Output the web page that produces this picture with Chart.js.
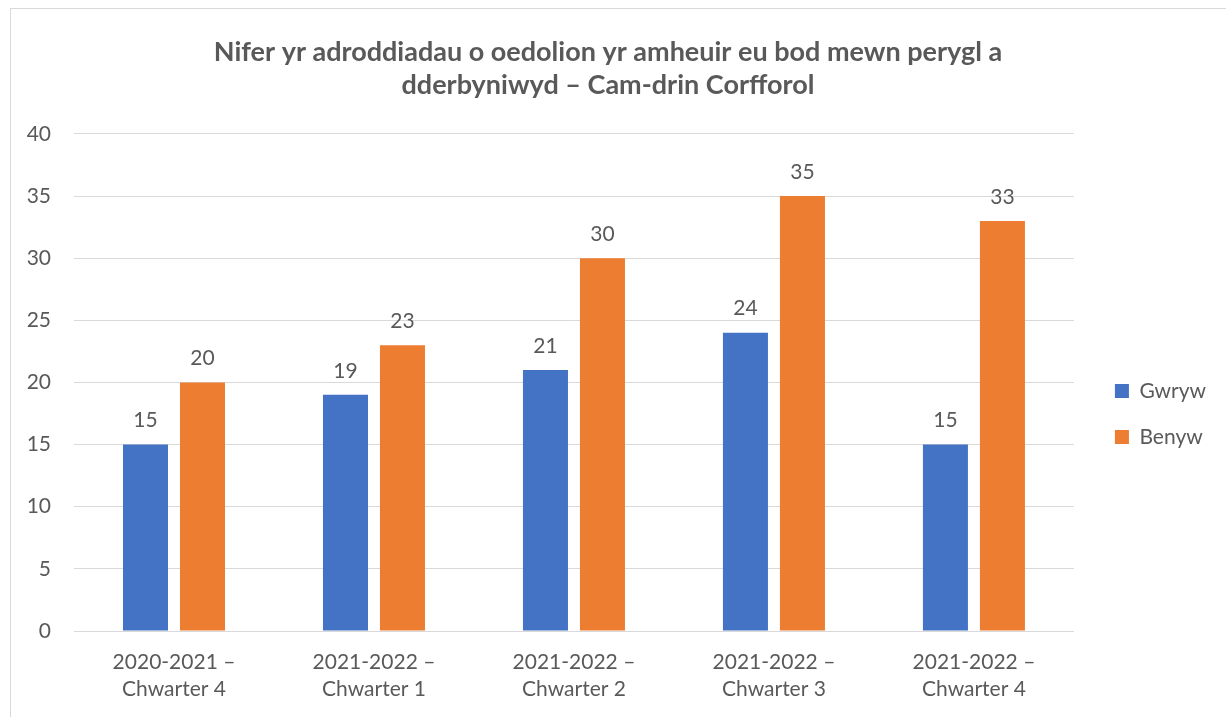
<!DOCTYPE html>
<html>
<head>
<meta charset="utf-8">
<script src="https://cdn.jsdelivr.net/npm/chart.js@4"></script>
<style>
  body { margin: 0; background: #fff; overflow: hidden; }
  #frame { position: absolute; left: 10px; top: 8px; width: 1300px; height: 800px; border: 1px solid #d9d9d9; }
  #wrap { position: absolute; left: 0; top: 0; width: 1226px; height: 717px; }
</style>
</head>
<body>
<div id="frame"></div>
<div id="wrap"><canvas id="myChart"></canvas></div>
<script>
var xValues = [
    ["2020-2021 –", "Chwarter 4"],
    ["2021-2022 –", "Chwarter 1"],
    ["2021-2022 –", "Chwarter 2"],
    ["2021-2022 –", "Chwarter 3"],
    ["2021-2022 –", "Chwarter 4"]
];
var gwrywValues = [15, 19, 21, 24, 15];
var benywValues = [20, 23, 30, 35, 33];
var seriesNames = ["Gwryw", "Benyw"];
var barColors = ["#4472c4", "#ed7d31"];
var titleText = ["Nifer yr adroddiadau o oedolion yr amheuir eu bod mewn perygl a", "dderbyniwyd – Cam-drin Corfforol"];

var fontFamily = "Lato, 'Open Sans', sans-serif";
var textColor = "#595959";

// draws the value above each bar
var valueLabels = {
    id: "valueLabels",
    afterDatasetsDraw: function (chart) {
        var ctx = chart.ctx;
        ctx.save();
        ctx.font = "21px " + fontFamily;
        ctx.fillStyle = textColor;
        ctx.textAlign = "center";
        ctx.textBaseline = "middle";
        chart.data.datasets.forEach(function (ds, i) {
            chart.getDatasetMeta(i).data.forEach(function (bar, j) {
                ctx.fillText(ds.data[j], bar.x, bar.y - 24);
            });
        });
        ctx.restore();
    }
};

// nudge the legend a bit away from the plot, like the original
var legendShift = {
    id: "legendShift",
    afterLayout: function (chart) {
        chart.legend.left += 16;
        chart.legend.right = chart.width;
    }
};

new Chart("myChart", {
    type: "bar",
    data: {
        labels: xValues,
        datasets: [{
            label: seriesNames[0],
            backgroundColor: barColors[0],
            data: gwrywValues,
            categoryPercentage: 0.57,
            barPercentage: 0.79
        }, {
            label: seriesNames[1],
            backgroundColor: barColors[1],
            data: benywValues,
            categoryPercentage: 0.57,
            barPercentage: 0.79
        }]
    },
    plugins: [valueLabels, legendShift],
    options: {
        responsive: true,
        maintainAspectRatio: false,
        animation: false,
        layout: { padding: { left: 16, right: 26, top: 0, bottom: 0 } },
        plugins: {
            title: {
                display: true,
                text: titleText,
                color: textColor,
                font: { family: fontFamily, size: 27, weight: "bold", lineHeight: 1.22 },
                padding: { top: 36, bottom: 32 }
            },
            legend: {
                position: "right",
                title: {
                    display: true,
                    text: " ",
                    font: { size: 21, lineHeight: 1 },
                    padding: { top: 45, bottom: 45 }
                },
                labels: {
                    color: textColor,
                    font: { family: fontFamily, size: 21 },
                    boxWidth: 14,
                    boxHeight: 14,
                    padding: 25
                }
            },
            tooltip: { enabled: false }
        },
        scales: {
            x: {
                grid: { display: false, drawTicks: false },
                border: { display: false },
                afterFit: function (scale) { scale.height = 86; },
                ticks: {
                    color: textColor,
                    font: { family: fontFamily, size: 21, lineHeight: 1.29 },
                    maxRotation: 0,
                    padding: 18
                }
            },
            y: {
                min: 0,
                max: 40,
                grid: { color: "#d9d9d9", drawTicks: false },
                border: { display: false },
                afterFit: function (scale) { scale.width = 58; },
                ticks: {
                    stepSize: 5,
                    color: textColor,
                    font: { family: fontFamily, size: 21 },
                    padding: 23
                }
            }
        }
    }
});
</script>
</body>
</html>
